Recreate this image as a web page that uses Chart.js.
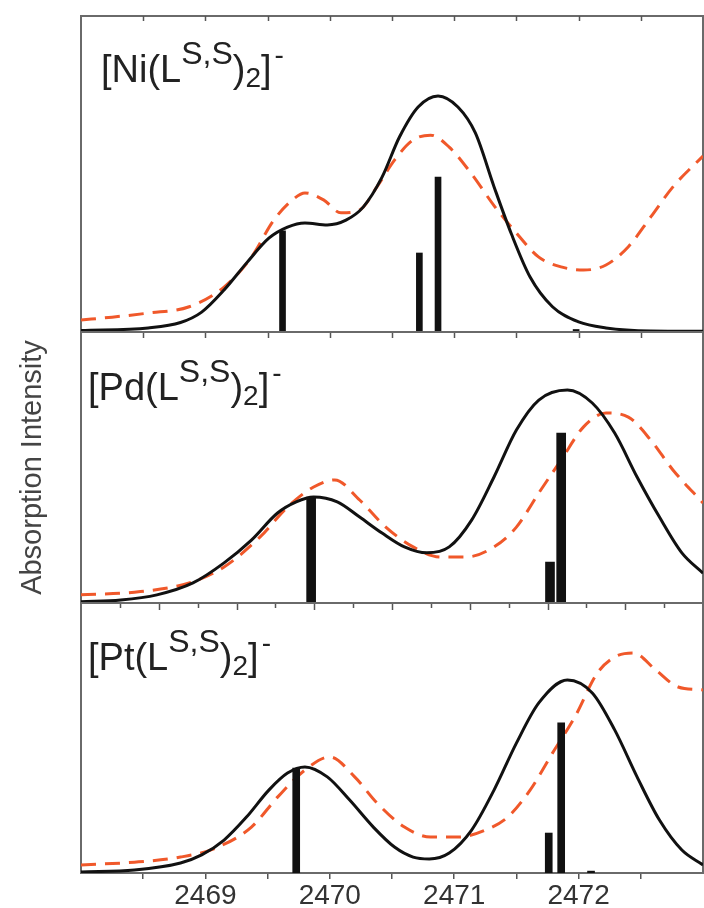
<!DOCTYPE html>
<html>
<head>
<meta charset="utf-8">
<script src="https://cdn.jsdelivr.net/npm/chart.js@4.4.0/dist/chart.umd.min.js"></script>
<style>
  body { margin: 0; background: #fff; }
  #wrap { position: relative; width: 704px; height: 908px; overflow: hidden; background: #fff; }
  canvas { position: absolute; left: 0; }
  .lab { position: absolute; font-family: 'Liberation Sans', Arial, sans-serif; font-size: 38px; line-height: 38px; color: #222; white-space: nowrap; }
  .lab .sup { font-size: 32px; position: relative; top: -18px; }
  .lab .sub { font-size: 28px; position: relative; top: 5px; }
  .lab .chg { font-size: 28px; position: relative; top: -18px; margin-left: 3px; }
</style>
</head>
<body>
<div id="wrap">
  <canvas id="chartNi" width="704" height="340" style="top:0px;width:704px;height:340px"></canvas>
  <canvas id="chartPd" width="704" height="300" style="top:320px;width:704px;height:300px"></canvas>
  <canvas id="chartPt" width="704" height="318" style="top:590px;width:704px;height:318px"></canvas>
  <div class="lab" style="left:101px;top:50px">[Ni(L<span class="sup">S,S</span>)<span class="sub">2</span>]<span class="chg">-</span></div>
  <div class="lab" style="left:88px;top:368px">[Pd(L<span class="sup">S,S</span>)<span class="sub">2</span>]<span class="chg">-</span></div>
  <div class="lab" style="left:88px;top:638px">[Pt(L<span class="sup">S,S</span>)<span class="sub">2</span>]<span class="chg">-</span></div>
</div>

<script>
// energy axis (eV)
var xMin = 2468, xMax = 2473;
var tickLabels = [2469, 2470, 2471, 2472];

// [Ni(LS,S)2]-  calculated spectrum (black), experiment (red dashed), transitions (sticks)
var niCalcX = [2468.0, 2468.54, 2468.8, 2468.97, 2469.15, 2469.33, 2469.51, 2469.66, 2469.8, 2469.98, 2470.13, 2470.27, 2470.42, 2470.56, 2470.71, 2470.87, 2471.03, 2471.17, 2471.32, 2471.46, 2471.61, 2471.79, 2472.0, 2472.22, 2472.58, 2473.0];
var niCalcY = [0.5, 1.3, 3, 6.3, 13.3, 21.8, 29.7, 33.2, 34.5, 33.9, 35.4, 39.6, 49, 61.7, 71.2, 74.7, 71.2, 63, 46, 31, 17.4, 8, 3.2, 1.3, 0.3, 0.2];
var niExpX = [2468.0, 2468.25, 2468.54, 2468.87, 2469.15, 2469.37, 2469.55, 2469.7, 2469.8, 2469.95, 2470.09, 2470.24, 2470.38, 2470.52, 2470.67, 2470.81, 2470.96, 2471.14, 2471.32, 2471.5, 2471.68, 2471.86, 2472.04, 2472.22, 2472.4, 2472.58, 2472.76, 2473.0];
var niExpY = [3.8, 4.7, 6, 8, 14.2, 23.7, 35.4, 41.8, 44, 41.8, 37.7, 38.6, 46, 54.4, 60.8, 62.3, 58.5, 50, 40, 31.3, 23.7, 20.6, 19.6, 21.2, 27, 36.4, 46, 55.7];
var niStickX = [2469.62, 2470.72, 2470.87, 2471.98];
var niStickY = [32, 25, 49, 0.8];

// [Pd(LS,S)2]-
var pdCalcX = [2468.0, 2468.32, 2468.61, 2468.9, 2469.15, 2469.37, 2469.58, 2469.73, 2469.87, 2470.06, 2470.24, 2470.42, 2470.6, 2470.78, 2470.96, 2471.14, 2471.32, 2471.5, 2471.68, 2471.91, 2472.11, 2472.29, 2472.47, 2472.65, 2472.83, 2473.0];
var pdCalcY = [0.5, 1.1, 3, 7.4, 14.8, 23.2, 33.2, 37.3, 39.1, 37.3, 31.7, 25.8, 20.7, 18.5, 20.7, 30.6, 46.5, 63.8, 74.9, 78.6, 73.8, 62.7, 46.5, 31.7, 18.5, 11];
var pdExpX = [2468.0, 2468.43, 2468.87, 2469.15, 2469.44, 2469.66, 2469.87, 2470.04, 2470.24, 2470.45, 2470.67, 2470.89, 2471.1, 2471.32, 2471.5, 2471.68, 2471.86, 2472.04, 2472.22, 2472.4, 2472.58, 2472.76, 2473.0];
var pdExpY = [3, 4, 7.4, 13.3, 24.4, 35.4, 42.8, 45.4, 38, 28, 20.7, 17, 17, 20.7, 28, 40.6, 52.8, 65, 70.1, 68.6, 60.1, 49, 36.9];
var pdStickX = [2469.85, 2471.77, 2471.86];
var pdStickY = [39.1, 15.1, 62.7];

// [Pt(LS,S)2]-
var ptCalcX = [2468.0, 2468.43, 2468.8, 2468.97, 2469.15, 2469.33, 2469.51, 2469.66, 2469.8, 2469.98, 2470.16, 2470.35, 2470.52, 2470.67, 2470.8, 2470.96, 2471.14, 2471.32, 2471.5, 2471.68, 2471.91, 2472.11, 2472.29, 2472.47, 2472.65, 2472.83, 2473.0];
var ptCalcY = [0.4, 1.1, 3.7, 6.7, 12.2, 20.7, 30.7, 37, 39.3, 35.6, 27, 17, 9.6, 5.9, 5.2, 7.4, 15.9, 30.7, 48.1, 63, 71.5, 66.7, 53, 35.6, 19.6, 8.5, 3];
var ptExpX = [2468.0, 2468.43, 2468.8, 2469.08, 2469.37, 2469.58, 2469.8, 2470.0, 2470.2, 2470.38, 2470.6, 2470.81, 2471.03, 2471.25, 2471.43, 2471.61, 2471.79, 2471.97, 2472.15, 2472.29, 2472.44, 2472.62, 2472.8, 2473.0];
var ptExpY = [3, 4, 5.9, 9.2, 17, 28.1, 38.1, 43, 35.6, 25.9, 17, 13.3, 13.3, 15.9, 20.7, 30.7, 44.4, 57.8, 74, 80, 81.5, 75.2, 68.9, 67.8];
var ptStickX = [2469.73, 2471.76, 2471.86, 2472.1];
var ptStickY = [38.9, 14.8, 55.6, 0.7];

var fontFam = "'Liberation Sans', Arial, sans-serif";

function pts(xs, ys) {
	return xs.map(function (x, i) { return { x: x, y: ys[i] }; });
}

// box around each panel plus the little tick marks along its edges
var framePlugin = {
	id: 'frame',
	beforeDatasetsDraw: function (chart, args, opts) {
		var a = chart.chartArea, ctx = chart.ctx, sx = chart.scales.x;
		ctx.save();
		ctx.strokeStyle = '#6a6a6a';
		ctx.lineWidth = 2;
		ctx.strokeRect(a.left, a.top, a.right - a.left, a.bottom - a.top);
		ctx.strokeStyle = '#555';
		ctx.lineWidth = 1.5;
		(opts.marks || []).forEach(function (m) {
			var n = Math.round((xMax - xMin) / m.step);
			for (var k = 1; k < n; k++) {
				var px = Math.round(sx.getPixelForValue(xMin + k * m.step)) + 0.5;
				var y0 = m.edge === 'top' ? a.top : a.bottom;
				var len = (m.longEvery && k % m.longEvery === 0) ? m.len + 2 : m.len;
				ctx.beginPath();
				ctx.moveTo(px, y0);
				ctx.lineTo(px, y0 + len);
				ctx.stroke();
			}
		});
		ctx.restore();
	}
};

function makePanel(id, calc, expt, sticks, barW, padding, marks, yTitle, showX) {
	var ctx = document.getElementById(id).getContext('2d');
	var xAxis = {
		type: 'linear',
		min: xMin,
		max: xMax,
		offset: false,
		display: showX,
		grid: {
			offset: false,
			drawOnChartArea: false,
			drawTicks: true,
			tickLength: 6,
			lineWidth: 1.5,
			color: function (c) {
				if (c.tick && (c.tick.value === xMin || c.tick.value === xMax)) return 'rgba(0,0,0,0)';
				return '#555';
			}
		},
		border: { display: false },
		ticks: {
			stepSize: 0.5,
			autoSkip: false,
			maxRotation: 0,
			padding: 0,
			color: '#333',
			font: { size: 28, family: fontFam },
			callback: function (v) { return tickLabels.indexOf(v) >= 0 ? String(v) : ''; }
		}
	};
	if (showX) xAxis.afterFit = function (s) { s.height = 35; };

	return new Chart(ctx, {
		type: 'line',
		data: {
			datasets: [
				{
					type: 'bar',
					data: sticks,
					backgroundColor: '#111',
					barThickness: barW,
					grouped: false,
					order: 0
				},
				{
					data: calc,
					borderColor: '#111',
					borderWidth: 3,
					pointRadius: 0,
					cubicInterpolationMode: 'monotone',
					fill: false,
					order: 1
				},
				{
					data: expt,
					borderColor: '#f0582a',
					borderWidth: 3,
					borderDash: [15, 9],
					pointRadius: 0,
					cubicInterpolationMode: 'monotone',
					fill: false,
					order: 2
				}
			]
		},
		options: {
			responsive: false,
			animation: false,
			layout: { padding: padding },
			plugins: {
				legend: { display: false },
				tooltip: { enabled: false },
				frame: { marks: marks }
			},
			scales: {
				x: xAxis,
				// the y axis is only a blank 81px strip (with the title on the middle panel)
				y: {
					min: 0,
					max: 100,
					display: true,
					grid: { display: false },
					border: { display: false },
					ticks: { display: false },
					title: {
						display: !!yTitle,
						text: yTitle || '',
						color: '#444',
						font: { size: 29, family: fontFam },
						padding: { top: 16, bottom: 0 }
					},
					afterFit: function (s) { s.width = 81; }
				}
			}
		},
		plugins: [framePlugin]
	});
}

// top panel: ticks pointing in along the top, out along the bottom
makePanel('chartNi', pts(niCalcX, niCalcY), pts(niExpX, niExpY), pts(niStickX, niStickY), 6,
	{ left: 0, right: 1, top: 16, bottom: 8 },
	[{ edge: 'top', step: 0.5, len: 5 }, { edge: 'bottom', step: 0.5, len: 6 }],
	null, false);

// middle panel carries the shared y title
makePanel('chartPd', pts(pdCalcX, pdCalcY), pts(pdExpX, pdExpY), pts(pdStickX, pdStickY), 9,
	{ left: 0, right: 1, top: 12, bottom: 17 },
	[{ edge: 'bottom', step: 0.3125, len: 5, longEvery: 2 }],
	'Absorption Intensity', false);

// bottom panel with the energy labels
makePanel('chartPt', pts(ptCalcX, ptCalcY), pts(ptExpX, ptExpY), pts(ptStickX, ptStickY), 7,
	{ left: 0, right: 1, top: 13, bottom: 0 },
	[],
	null, true);
</script>
</body>
</html>
